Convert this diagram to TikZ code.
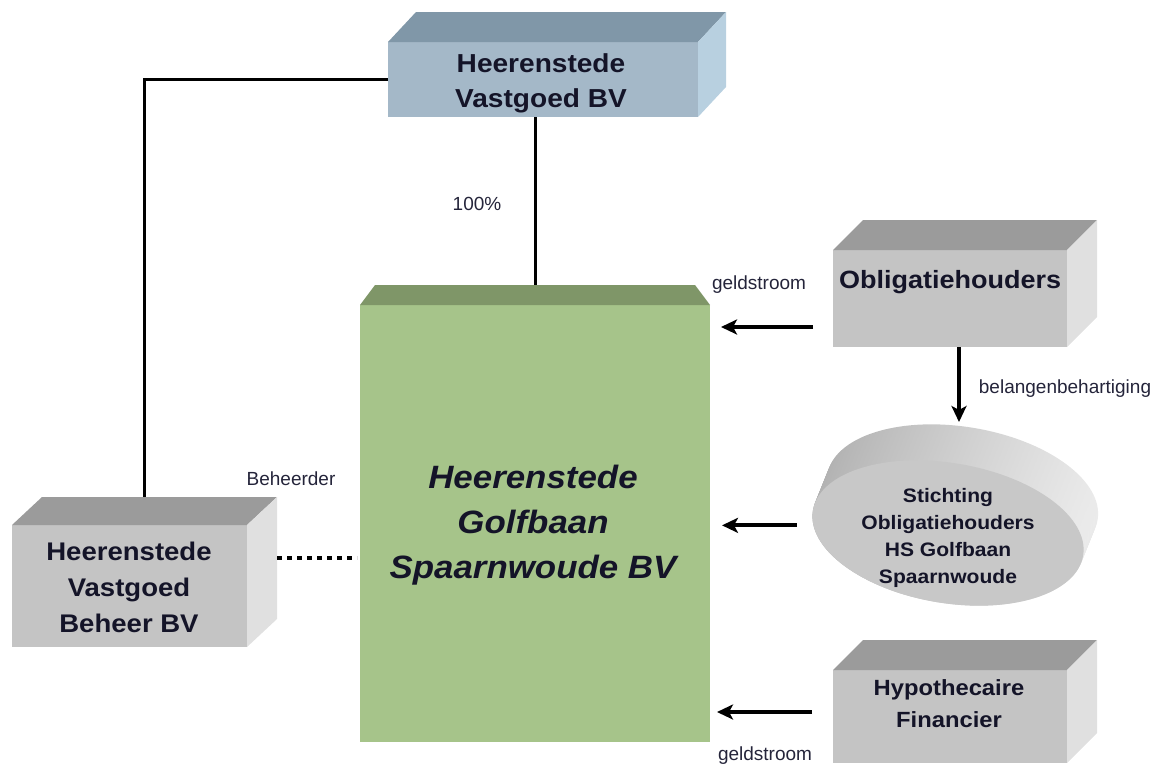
\documentclass[tikz,border=0pt]{standalone}
\usepackage{fontspec}
\setmainfont{Liberation Sans}
\newfontfamily\bfam[FakeStretch=1.08]{Liberation Sans}
\usetikzlibrary{arrows.meta,shapes.geometric,calc}
\definecolor{txt}{HTML}{141428}
\definecolor{lbltxt}{HTML}{24243A}
\definecolor{blueF}{HTML}{A4B8C8}
\definecolor{blueT}{HTML}{8097A8}
\definecolor{blueS}{HTML}{B8D0E0}
\definecolor{greyF}{HTML}{C4C4C4}
\definecolor{greyT}{HTML}{9B9B9B}
\definecolor{greyS}{HTML}{E0E0E0}
\definecolor{greenF}{HTML}{A6C48A}
\definecolor{greenT}{HTML}{7F9668}
\definecolor{ellF}{HTML}{C8C8C8}
\definecolor{ellL}{HTML}{B0B0B0}
\definecolor{ellM}{HTML}{9A9A9A}
\definecolor{ellR}{HTML}{ECECEC}
\newcommand{\boxfaces}[5]{%
  \fill[#4] (#1.north west) -- ++(#2,#3) -- ([shift={(#2,#3)}]#1.north east) -- (#1.north east) -- cycle;
  \fill[#5] (#1.north east) -- ++(#2,#3) -- ([shift={(#2,#3)}]#1.south east) -- (#1.south east) -- cycle;}
\begin{document}
\begin{tikzpicture}[x=1pt,y=-1pt,
  face/.style={rectangle, draw=none, inner sep=0pt, outer sep=0pt},
  bigtxt/.style={align=center, anchor=base, inner sep=0pt, text=txt},
  lbl/.style={anchor=base, inner sep=0pt, text=lbltxt, font=\fontsize{19}{22}\selectfont},
  conn/.style={line width=3pt},
  arr/.style={line width=4pt, -{Stealth[length=16pt,width=15pt,inset=4pt]}},
  dots/.style={line width=4.5pt, dash pattern=on 5pt off 5pt}]
\useasboundingbox (0,0) rectangle (1161,766);

% top box
\node[face, fill=blueF, minimum width=310pt, minimum height=75pt] (top) at (543,79.5) {};
\boxfaces{top}{28}{-30}{blueT}{blueS}
\node[bigtxt, font=\bfam\bfseries\fontsize{26}{35}\selectfont] (toptxt) at (541,107) {Heerenstede\\Vastgoed BV};

% green box
\node[face, fill=greenF, minimum width=350pt, minimum height=437pt] (green) at (535,523.5) {};
\fill[greenT] (green.north west) -- ++(15,-20) -- ([shift={(-15,-20)}]green.north east) -- (green.north east) -- cycle;
\node[bigtxt, font=\bfam\bfseries\itshape\fontsize{32.3}{45}\selectfont] (greentxt) at (533,578) {Heerenstede\\Golfbaan\\Spaarnwoude BV};

% Obligatiehouders
\node[face, fill=greyF, minimum width=234pt, minimum height=97pt] (obl) at (950,298.5) {};
\boxfaces{obl}{30}{-30}{greyT}{greyS}
\node[bigtxt, font=\bfam\bfseries\fontsize{25}{30}\selectfont] (obltxt) at (950,288) {Obligatiehouders};

% Hypothecaire Financier
\node[face, fill=greyF, minimum width=234pt, minimum height=93pt] (hyp) at (950,716.5) {};
\boxfaces{hyp}{30}{-30}{greyT}{greyS}
\node[bigtxt, font=\bfam\bfseries\fontsize{22}{32}\selectfont] (hyptxt) at (949,727) {Hypothecaire\\Financier};

% Beheer
\node[face, fill=greyF, minimum width=235pt, minimum height=122pt] (beh) at (129.5,586) {};
\boxfaces{beh}{30}{-28}{greyT}{greyS}
\node[bigtxt, font=\bfam\bfseries\fontsize{25.5}{36}\selectfont] (behtxt) at (129,632) {Heerenstede\\Vastgoed\\Beheer BV};

% Stichting (tilted disc)
\foreach \t in {0,...,24}
  \shade[left color=ellL, middle color=ellM, right color=ellR, shift={(962.5-14.5*\t/24,497+36*\t/24)}, rotate=-9.5]
    (0,0) ellipse [x radius=137, y radius=70];
\node[ellipse, draw=none, fill=ellF, inner sep=0pt, minimum width=274pt, minimum height=140pt, rotate=-9.5] (sti) at (948,533) {};
\node[bigtxt, font=\bfam\bfseries\fontsize{19.5}{27}\selectfont] (stitxt) at (948,583) {Stichting\\Obligatiehouders\\HS Golfbaan\\Spaarnwoude};

% connectors
\draw[conn] (top.west) -| ([xshift=15pt,yshift=28pt]beh.north);
\draw[conn] (green.north |- top.south) -- ([yshift=20pt]green.north);
\draw[dots] ([xshift=30pt,yshift=28pt]beh.east) -- ([xshift=-3pt,yshift=28pt]beh.east -| green.west);

\coordinate (a1) at ([xshift=-20pt,yshift=-28.5pt]obl.west);
\draw[arr, shorten >=11pt] (a1) -- (a1 -| green.east);
\coordinate (a2) at ([xshift=-16pt,yshift=-15pt]sti.west);
\draw[arr, shorten >=12pt] (a2) -- (a2 -| green.east);
\coordinate (a3) at ([xshift=-21pt,yshift=4.5pt]hyp.west);
\draw[arr, shorten >=7pt] (a3) -- (a3 -| green.east);
\coordinate (a4) at ([xshift=9pt]obl.south);
\draw[arr, shorten >=5pt] (a4) -- (a4 |- 0,427);

% labels
\node[lbl] (l100) at (477,210) {100\%};
\node[lbl] (lgeld1) at (759,289) {geldstroom};
\node[lbl] (lgeld2) at (765,760) {geldstroom};
\node[lbl] (lbel) at (1065,393) {belangenbehartiging};
\node[lbl] (lbeh) at (291,485) {Beheerder};
\end{tikzpicture}
\end{document}
